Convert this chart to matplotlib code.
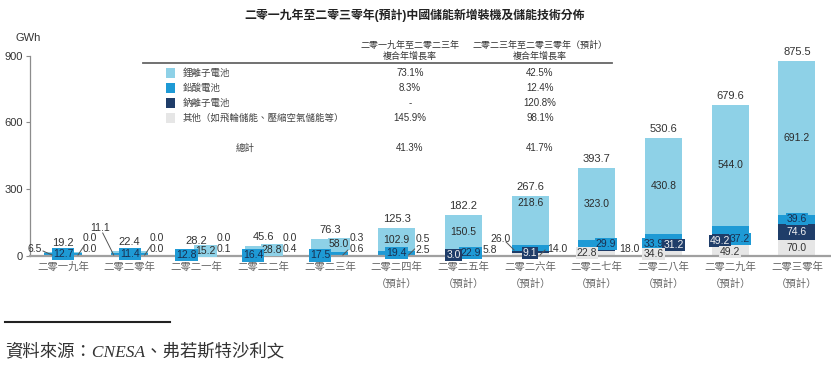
import matplotlib
matplotlib.use('Agg')
import matplotlib.pyplot as plt
from matplotlib.lines import Line2D
from matplotlib.patches import Rectangle

plt.rcParams['font.family'] = ['Liberation Sans', 'Noto Sans CJK TC', 'DejaVu Sans']

# ---------------- data ----------------
years = ['二零一九年', '二零二零年', '二零二一年', '二零二二年', '二零二三年',
         '二零二四年\n（預計）', '二零二五年\n（預計）', '二零二六年\n（預計）',
         '二零二七年\n（預計）', '二零二八年\n（預計）', '二零二九年\n（預計）',
         '二零三零年\n（預計）']
li_ion = [6.5, 11.1, 15.2, 28.8, 58.0, 102.9, 150.5, 218.6, 323.0, 430.8, 544.0, 691.2]
lead_acid = [12.7, 11.4, 12.8, 16.4, 17.5, 19.4, 22.9, 26.0, 29.9, 33.9, 37.2, 39.6]
sodium = [0.0, 0.0, 0.0, 0.0, 0.3, 0.5, 3.0, 9.1, 18.0, 31.2, 49.2, 74.6]
other = [0.0, 0.0, 0.1, 0.4, 0.6, 2.5, 5.8, 14.0, 22.8, 34.6, 49.2, 70.0]
totals = [19.2, 22.4, 28.2, 45.6, 76.3, 125.3, 182.2, 267.6, 393.7, 530.6, 679.6, 875.5]

series_names = ['鋰離子電池', '鉛酸電池', '鈉離子電池', '其他（如飛輪儲能、壓縮空氣儲能等）']
cagr_19_23 = ['73.1%', '8.3%', '-', '145.9%']
cagr_23_30 = ['42.5%', '12.4%', '120.8%', '98.1%']
cagr_total = ['41.3%', '41.7%']
y_ticks = [0, 300, 600, 900]

# ---------------- style ----------------
colors = ['#8ED1E7', '#1E9AD5', '#1F3D69', '#E6E6E6']
text_colors = ['#2b2b2b', '#1a2f50', '#f2f2f2', '#333333']
NUM = '#333333'
W, H = 831, 366
fig = plt.figure(figsize=(W / 100, H / 100), dpi=100)

ax_left, ax_right = 30, 831
ax_top, ax_bottom = 55.5, 256
ax = fig.add_axes([ax_left / W, 1 - ax_bottom / H, (ax_right - ax_left) / W, (ax_bottom - ax_top) / H])
xmin, xmax = -0.4945, 11.51
ax.set_xlim(xmin, xmax)
ax.set_ylim(0, 900)
PX_X = (ax_right - ax_left) / (xmax - xmin)   # px per category
PX_Y = (ax_bottom - ax_top) / 900.0            # px per GWh

x = list(range(len(years)))
bw = 0.555
series = [li_ion, lead_acid, sodium, other]
stack_order = [3, 2, 1, 0]
bottoms = [0.0] * len(x)
seg_bottom = {}
for s in stack_order:
    vals = series[s]
    ax.bar(x, vals, bw, bottom=bottoms, color=colors[s], zorder=2, linewidth=0)
    for i in x:
        seg_bottom[(s, i)] = bottoms[i]
    bottoms = [b + v for b, v in zip(bottoms, vals)]

# label placement: (series, cat) -> (dx_px, dy_px above baseline, outside)
pos = {
    (0, 0): (-28, 7, True), (1, 0): (0, 2, False), (2, 0): (27, 18, True), (3, 0): (27, 7, True),
    (0, 1): (-30, 28, True), (1, 1): (0, 2, False), (2, 1): (27, 18, True), (3, 1): (27, 7, True),
    (0, 2): (9, 5, False), (1, 2): (-10, 1, False), (2, 2): (27, 18, True), (3, 2): (27, 7, True),
    (0, 3): (9, 6, False), (1, 3): (-10, 0.5, False), (2, 3): (27, 18, True), (3, 3): (27, 7, True),
    (0, 4): (9, 12, False), (1, 4): (-10, 0.5, False), (2, 4): (27, 18, True), (3, 4): (27, 7, True),
    (1, 5): (0, 3, False), (2, 5): (26, 17, True), (3, 5): (26, 6, True),
    (1, 6): (7, 3, False), (2, 6): (-10, 1, False), (3, 6): (26, 6, True),
    (0, 7): (0, 53, False), (1, 7): (-30, 17, True), (2, 7): (0, 3, False), (3, 7): (27, 7, True),
    (1, 8): (9, 12, False), (2, 8): (33, 7, True), (3, 8): (-10, 3, False),
    (1, 9): (-10, 12, False), (2, 9): (10, 11, False), (3, 9): (-10, 2, False),
    (1, 10): (10, 17, False), (2, 10): (-10, 15, False), (3, 10): (0, 4, False),
}
leaders = [  # (cat, (dx0, dy0), (dx1, dy1)) in px
    (0, (-20, 5), (-11, 1)), (0, (15, 1), (21, 10)),
    (1, (-27, 23), (-16, 1)), (1, (15, 1), (21, 10)),
    (4, (13, 1), (18, 6)), (5, (12, 1), (18, 7)),
    (7, (-24, 14), (-16, 6)), (7, (10, 1), (15, 6)),
]

for s in range(4):
    for i in x:
        val = series[s][i]
        if (s, i) in pos:
            dx, dy, outside = pos[(s, i)]
            xx = i + dx / PX_X
            yy = dy / PX_Y
        else:
            outside = False
            xx = i
            yy = seg_bottom[(s, i)] + val / 2
        if outside:
            ax.text(xx, yy, f'{val:.1f}', ha='center', va='center', fontsize=7.5,
                    color=NUM, zorder=5, clip_on=False)
        else:
            ax.text(xx, yy, f'{val:.1f}', ha='center', va='center', fontsize=7.5,
                    color=text_colors[s], zorder=5, clip_on=False,
                    bbox=dict(boxstyle='square,pad=0.1', fc=colors[s], ec='none'))

for i, (p0, p1) in [(l[0], (l[1], l[2])) for l in leaders]:
    ax.plot([i + p0[0] / PX_X, i + p1[0] / PX_X], [p0[1] / PX_Y, p1[1] / PX_Y],
            color='#555555', lw=0.7, zorder=6, clip_on=False)

for i in x:
    ax.text(i, totals[i] + 4 / PX_Y, f'{totals[i]:.1f}', ha='center', va='bottom',
            fontsize=8, color=NUM, zorder=5, clip_on=False)

# axes styling
for side in ['top', 'right']:
    ax.spines[side].set_visible(False)
ax.spines['left'].set_color('#8c8c8c')
ax.spines['left'].set_linewidth(0.9)
ax.spines['bottom'].set_color('#a0a0a0')
ax.spines['bottom'].set_linewidth(1.6)
ax.set_yticks(y_ticks)
ax.set_yticklabels([str(t) for t in y_ticks], fontsize=8, color='#333333')
ax.tick_params(axis='y', length=3, width=0.8, color='#8c8c8c', pad=2)
ax.set_xticks(x)
ax.set_xticklabels(years, fontsize=7.5, color='#666666', linespacing=1.8)
ax.tick_params(axis='x', length=0, pad=4)
ax.patch.set_alpha(0)

def fx(px):
    return px / W

def fy(py):
    return 1 - py / H

fig.text(fx(28), fy(38), 'GWh', ha='center', va='center', fontsize=8, color='#333333')
fig.text(fx(415), fy(15), '二零一九年至二零三零年(預計)中國儲能新增裝機及儲能技術分佈',
         ha='center', va='center', fontsize=8.6, fontweight='bold', color='#222222')

# legend table
fig.text(fx(410), fy(51), '二零一九年至二零二三年\n複合年增長率', ha='center', va='center',
         fontsize=6.5, color='#333333', linespacing=1.25)
fig.text(fx(540), fy(51), '二零二三年至二零三零年（預計）\n複合年增長率', ha='center', va='center',
         fontsize=6.5, color='#333333', linespacing=1.25)
fig.add_artist(Line2D([fx(143), fx(612)], [fy(62.5), fy(62.5)], color='#666666', lw=1.3))
row_y = [73, 88, 103, 118]
for k in range(4):
    fig.add_artist(Rectangle((fx(166), fy(row_y[k] + 4.5)), 9 / W, 9 / H,
                             facecolor=colors[k], edgecolor='none'))
    fig.text(fx(183), fy(row_y[k]), series_names[k], ha='left', va='center',
             fontsize=6.8, color='#444444')
    fig.text(fx(410), fy(row_y[k]), cagr_19_23[k], ha='center', va='center',
             fontsize=7, color='#333333')
    fig.text(fx(540), fy(row_y[k]), cagr_23_30[k], ha='center', va='center',
             fontsize=7, color='#333333')
fig.text(fx(245), fy(148), '總計', ha='center', va='center', fontsize=6.8, color='#444444')
fig.text(fx(410), fy(148), cagr_total[0], ha='center', va='center', fontsize=7, color='#333333')
fig.text(fx(540), fy(148), cagr_total[1], ha='center', va='center', fontsize=7, color='#333333')

# source
fig.add_artist(Line2D([fx(5), fx(170)], [fy(322), fy(322)], color='#222222', lw=1.5))
fig.text(fx(5), fy(352), '資料來源：CNESA、弗若斯特沙利文', ha='left', va='center',
         fontsize=12.5, color='#333333', style='italic',
         family=['Liberation Serif', 'Noto Sans CJK TC'])

fig.savefig('out.png', dpi=100)
